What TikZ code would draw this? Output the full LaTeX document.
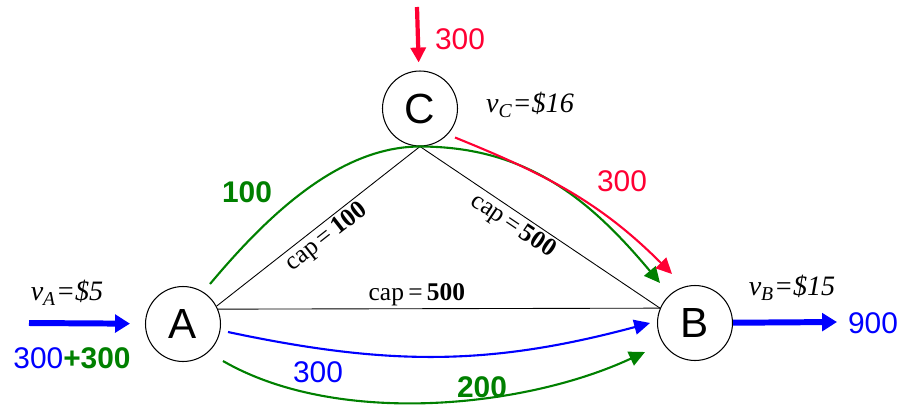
\documentclass[tikz,border=0pt]{standalone}
\usepackage{fontspec}
\setmainfont{Liberation Serif}
\newfontfamily\arialfont{Liberation Sans}
\usetikzlibrary{arrows.meta}
\definecolor{flowblue}{RGB}{0,0,255}
\definecolor{flowgreen}{RGB}{0,128,0}
\definecolor{flowred}{RGB}{255,0,51}
\tikzset{
  town/.style={draw, circle, line width=0.6pt, minimum size=1.5cm, inner sep=0pt, font=\arialfont\fontsize{24}{28}\selectfont},
  price/.style={font=\itshape\fontsize{16}{19}\selectfont, inner sep=0pt},
  qty/.style={font=\arialfont\fontsize{17}{20}\selectfont, inner sep=0pt},
  capl/.style={font=\fontsize{14.5}{17}\selectfont, sloped, inner sep=1.5pt},
  edge/.style={line width=0.5pt},
  flow/.style={line width=1.2pt, -{Triangle[length=9pt, width=8.5pt]}},
  supply/.style={line width=3.4pt, -{Triangle[length=8.5pt, width=10pt]}}
}
\begin{document}
\begin{tikzpicture}[x=0.02cm, y=-0.02cm]
\useasboundingbox (0,0) rectangle (906,406);
% the three markets
\node[town] (A) at (183,324) {A};
\node[town] (B) at (695,323) {B};
\node[town] (C) at (420,108.5) {C};
% prices
\node[price] (vA) at (67,293) {v\textsubscript{A}=\$5};
\node[price] (vB) at (792,288) {v\textsubscript{B}=\$15};
\node[price] (vC) at (530,105) {v\textsubscript{C}=\$16};
% links with capacities
\draw[edge] (A.28) -- node[capl, pos=0.5, below] {cap\,=\,\textbf{100}} (C.south);
\draw[edge] (C.south) -- node[capl, pos=0.42, below] {cap\,=\,\textbf{500}} (B.157);
\draw[edge] (A.23) -- node[capl, pos=0.45, above] {cap\,=\,\textbf{500}} (B.157);
% supply and demand
\coordinate (inA) at (29,323);
\coordinate (inC) at (417,7);
\coordinate (outB) at (837,322);
\draw[supply, flowblue] (inA) -- (A) [shorten >=0.3cm];
\draw[supply, flowred, line width=2.4pt, -{Triangle[length=8.5pt, width=8.5pt]}] (inC) -- (C) [shorten >=0.16cm];
\draw[supply, flowblue] (B) -- (outB);
\node[qty, flowred] (qC) at (460,39) {300};
\node[qty, flowblue] (qB) at (873,323) {900};
\node[qty, flowblue] (qA) at (72,358) {300\textcolor{flowgreen}{\bfseries+300}};
% flows
\draw[flow, flowgreen] ([shift={(27,-40)}]A.center) to[out=50, in=180, looseness=0.85] (C.south) to[out=0, in=130] ([shift={(-35,-40)}]B.center);
\draw[flow, flowred] ([shift={(35,29)}]C.center) to[out=-22, in=135] ([shift={(-23,-49)}]B.center);
\draw[flow, flowblue] ([shift={(45,8)}]A.center) to[out=-12, in=195] ([shift={(-45,0)}]B.center);
\draw[flow, flowgreen] ([shift={(40,37)}]A.center) to[out=-30, in=205, looseness=0.8] ([shift={(-50,29)}]B.center);
\node[qty, flowgreen, font=\arialfont\bfseries\fontsize{17}{20}\selectfont] (fAC) at (247,192) {100};
\node[qty, flowred] (fCB) at (622,181) {300};
\node[qty, flowblue] (fAB) at (318,372) {300};
\node[qty, flowgreen, font=\arialfont\bfseries\fontsize{17}{20}\selectfont] (fAB2) at (482,387) {200};
\end{tikzpicture}
\end{document}
